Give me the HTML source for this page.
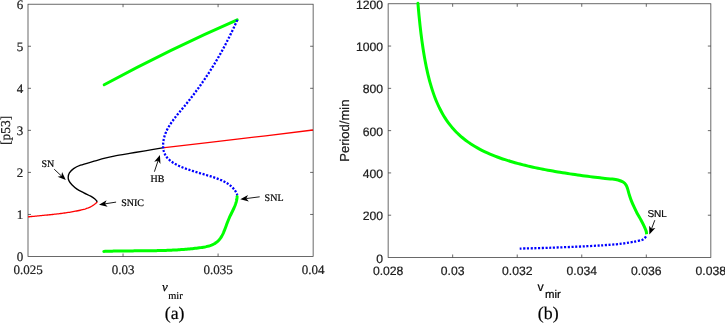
<!DOCTYPE html>
<html><head><meta charset="utf-8"><style>
html,body{margin:0;padding:0;background:#fff;width:725px;height:323px;overflow:hidden;font-family:"Liberation Sans",sans-serif;}
svg{display:block;will-change:transform;}
text{text-rendering:geometricPrecision;stroke:currentColor;stroke-width:0.2px;}
</style></head><body>
<svg width="725" height="323" viewBox="0 0 725 323">
<g fill="none" stroke="#383838" stroke-width="0.75">
<rect x="28" y="4.2" width="285.13" height="252.3"/>
<line x1="123.04" y1="256.5" x2="123.04" y2="253.5"/>
<line x1="123.04" y1="4.2" x2="123.04" y2="7.2"/>
<line x1="218.09" y1="256.5" x2="218.09" y2="253.5"/>
<line x1="218.09" y1="4.2" x2="218.09" y2="7.2"/>
<line x1="28" y1="214.45" x2="31" y2="214.45"/>
<line x1="313.13" y1="214.45" x2="310.13" y2="214.45"/>
<line x1="28" y1="172.40" x2="31" y2="172.40"/>
<line x1="313.13" y1="172.40" x2="310.13" y2="172.40"/>
<line x1="28" y1="130.35" x2="31" y2="130.35"/>
<line x1="313.13" y1="130.35" x2="310.13" y2="130.35"/>
<line x1="28" y1="88.30" x2="31" y2="88.30"/>
<line x1="313.13" y1="88.30" x2="310.13" y2="88.30"/>
<line x1="28" y1="46.25" x2="31" y2="46.25"/>
<line x1="313.13" y1="46.25" x2="310.13" y2="46.25"/>
</g>
<path d="M28.00,216.90 L29.21,216.77 L30.42,216.65 L31.64,216.52 L32.85,216.40 L34.06,216.28 L35.28,216.16 L36.49,216.04 L37.71,215.92 L38.92,215.81 L40.14,215.69 L41.36,215.57 L42.57,215.46 L43.79,215.34 L45.01,215.22 L46.22,215.10 L47.44,214.98 L48.66,214.86 L49.88,214.73 L51.09,214.61 L52.31,214.48 L53.53,214.35 L54.75,214.21 L55.96,214.07 L57.18,213.93 L58.40,213.79 L59.62,213.64 L60.83,213.49 L62.05,213.33 L63.26,213.17 L64.48,213.00 L65.70,212.83 L66.91,212.65 L68.12,212.47 L69.34,212.28 L70.55,212.08 L71.77,211.88 L72.98,211.67 L74.19,211.45 L75.40,211.23 L76.61,211.00 L77.82,210.76 L79.03,210.51 L80.23,210.25 L81.43,209.97 L82.62,209.67 L83.80,209.35 L84.97,209.01 L86.12,208.64 L87.26,208.23 L88.38,207.79 L89.48,207.32 L90.56,206.80 L91.61,206.24 L92.64,205.64 L93.63,204.98 L94.60,204.27 L95.54,203.51 L96.44,202.69 L97.30,201.80" fill="none" stroke="#ff0000" stroke-width="1.3"/>
<path d="M162.40,147.80 C174.87,146.37 212.10,142.17 237.20,139.20 C262.30,136.23 300.37,131.53 313.00,130.00" fill="none" stroke="#ff0000" stroke-width="1.3"/>
<path d="M97.30,201.80 C96.90,201.33 96.00,199.93 94.90,199.00 C93.80,198.07 92.53,197.23 90.70,196.20 C88.87,195.17 86.18,193.98 83.90,192.80 C81.62,191.62 79.00,190.43 77.00,189.10 C75.00,187.77 73.25,186.22 71.90,184.80 C70.55,183.38 69.52,181.87 68.90,180.60 C68.28,179.33 68.12,178.48 68.20,177.20 C68.28,175.92 68.50,174.33 69.40,172.90 C70.30,171.47 71.75,169.88 73.60,168.60 C75.45,167.32 77.08,166.43 80.50,165.20 C83.92,163.97 90.02,162.38 94.10,161.20 C98.18,160.02 101.67,158.95 105.00,158.10 C108.33,157.25 110.00,156.88 114.10,156.10 C118.20,155.32 124.43,154.28 129.60,153.40 C134.77,152.52 139.63,151.72 145.10,150.80 C150.57,149.88 159.52,148.38 162.40,147.90" fill="none" stroke="#000" stroke-width="1.35"/>
<path d="M104.2,84.7 Q170.7,48.7 237.2,19.8" fill="none" stroke="#00ff00" stroke-width="3" stroke-linecap="round"/>
<path d="M103.80,251.40 L105.20,251.35 L106.60,251.30 L108.00,251.26 L109.40,251.21 L110.80,251.18 L112.19,251.14 L113.59,251.11 L114.98,251.08 L116.37,251.05 L117.76,251.03 L119.15,251.01 L120.53,250.99 L121.92,250.97 L123.30,250.95 L124.69,250.94 L126.07,250.93 L127.45,250.91 L128.83,250.90 L130.21,250.89 L131.59,250.88 L132.97,250.88 L134.34,250.87 L135.72,250.86 L137.10,250.85 L138.47,250.84 L139.85,250.83 L141.22,250.83 L142.60,250.82 L143.97,250.81 L145.35,250.80 L146.72,250.78 L148.09,250.77 L149.47,250.75 L150.84,250.74 L152.21,250.72 L153.59,250.70 L154.96,250.68 L156.34,250.65 L157.71,250.62 L159.09,250.60 L160.46,250.56 L161.84,250.53 L163.21,250.49 L164.59,250.45 L165.96,250.40 L167.34,250.35 L168.72,250.30 L170.10,250.24 L171.48,250.18 L172.86,250.11 L174.24,250.04 L175.62,249.97 L177.01,249.89 L178.39,249.80 L179.77,249.71 L181.16,249.62 L182.55,249.52 L183.94,249.41 L185.33,249.30 L186.72,249.18 L188.11,249.06 L189.51,248.93 L190.90,248.79 L192.30,248.65 L193.70,248.49 L195.10,248.34 L196.51,248.17 L197.91,248.00 L199.32,247.82 L200.72,247.63 L202.12,247.42 L203.52,247.19 L204.90,246.94 L206.26,246.65 L207.60,246.33 L208.92,245.97 L210.21,245.56 L211.47,245.09 L212.69,244.57 L213.88,243.99 L215.01,243.35 L216.11,242.63 L217.14,241.83 L218.13,240.95 L219.05,239.99 L219.92,238.93 L220.72,237.81 L221.47,236.62 L222.17,235.38 L222.83,234.09 L223.44,232.78 L224.01,231.46 L224.55,230.12 L225.06,228.79 L225.55,227.46 L226.03,226.14 L226.51,224.83 L226.99,223.54 L227.48,222.26 L227.98,220.99 L228.49,219.72 L229.02,218.47 L229.57,217.22 L230.15,215.98 L230.75,214.74 L231.35,213.50 L231.97,212.26 L232.57,211.01 L233.17,209.77 L233.76,208.51 L234.31,207.25 L234.84,205.97 L235.33,204.69 L235.78,203.39 L236.18,202.07 L236.51,200.74 L236.78,199.38 L236.98,198.00 L237.10,196.60" fill="none" stroke="#00ff00" stroke-width="3" stroke-linecap="round"/>
<path d="M237.30,19.90 L236.45,21.80 L235.60,23.70 L234.74,25.58 L233.87,27.46 L232.99,29.32 L232.11,31.18 L231.22,33.03 L230.32,34.87 L229.42,36.70 L228.50,38.53 L227.58,40.34 L226.65,42.15 L225.71,43.95 L224.77,45.74 L223.81,47.53 L222.85,49.31 L221.88,51.08 L220.90,52.84 L219.91,54.60 L218.91,56.35 L217.90,58.09 L216.88,59.83 L215.86,61.56 L214.82,63.29 L213.78,65.00 L212.72,66.72 L211.66,68.42 L210.58,70.13 L209.50,71.82 L208.40,73.51 L207.30,75.20 L206.18,76.88 L205.06,78.56 L203.92,80.23 L202.78,81.90 L201.62,83.56 L200.45,85.22 L199.27,86.87 L198.08,88.52 L196.88,90.17 L195.66,91.81 L194.44,93.45 L193.20,95.09 L191.95,96.72 L190.69,98.35 L189.42,99.98 L188.14,101.60 L186.84,103.22 L185.53,104.84 L184.21,106.46 L182.88,108.08 L181.54,109.69 L180.19,111.30 L178.84,112.92 L177.51,114.54 L176.19,116.18 L174.90,117.82 L173.63,119.47 L172.41,121.14 L171.22,122.83 L170.09,124.53 L169.02,126.26 L168.02,128.01 L167.08,129.79 L166.23,131.60 L165.46,133.44 L164.78,135.32 L164.21,137.23 L163.74,139.18 L163.39,141.16 L163.16,143.17 L163.07,145.18 L163.13,147.17 L163.34,149.12 L163.73,151.02 L164.30,152.84 L165.07,154.55 L166.03,156.17 L167.17,157.67 L168.47,159.08 L169.92,160.40 L171.50,161.62 L173.18,162.77 L174.97,163.84 L176.82,164.84 L178.74,165.77 L180.70,166.64 L182.69,167.46 L184.68,168.23 L186.67,168.96 L188.64,169.65 L190.60,170.31 L192.55,170.94 L194.50,171.55 L196.44,172.14 L198.37,172.71 L200.31,173.28 L202.25,173.84 L204.18,174.41 L206.13,174.98 L208.08,175.56 L210.04,176.15 L212.00,176.77 L213.98,177.42 L215.95,178.09 L217.91,178.81 L219.84,179.58 L221.74,180.40 L223.59,181.28 L225.39,182.23 L227.13,183.25 L228.79,184.36 L230.36,185.56 L231.83,186.85 L233.20,188.25 L234.45,189.75 L235.58,191.37 L236.57,193.12 L237.41,195.00" fill="none" stroke="#0000ff" stroke-width="2.3" stroke-dasharray="2.1 1.6"/>
<line x1="54.20" y1="169.20" x2="61.42" y2="175.97" stroke="#000" stroke-width="0.9"/><path d="M65.79,180.07 L57.55,176.87 L61.42,175.97 L62.07,172.06 Z" fill="#000"/>
<line x1="116.10" y1="202.10" x2="104.93" y2="203.84" stroke="#000" stroke-width="0.9"/><path d="M99.00,204.76 L106.60,200.24 L104.93,203.84 L107.61,206.76 Z" fill="#000"/>
<line x1="154.40" y1="171.70" x2="158.03" y2="160.81" stroke="#000" stroke-width="0.9"/><path d="M159.93,155.12 L160.46,163.94 L158.03,160.81 L154.20,161.86 Z" fill="#000"/>
<line x1="259.70" y1="196.80" x2="246.25" y2="198.57" stroke="#000" stroke-width="0.9"/><path d="M240.30,199.35 L248.00,195.01 L246.25,198.57 L248.86,201.55 Z" fill="#000"/>
<text x="23.2" y="261.40" font-family="Liberation Serif, serif" font-size="13" text-anchor="end" fill="#262626">0</text>
<text x="23.2" y="219.35" font-family="Liberation Serif, serif" font-size="13" text-anchor="end" fill="#262626">1</text>
<text x="23.2" y="177.30" font-family="Liberation Serif, serif" font-size="13" text-anchor="end" fill="#262626">2</text>
<text x="23.2" y="135.25" font-family="Liberation Serif, serif" font-size="13" text-anchor="end" fill="#262626">3</text>
<text x="23.2" y="93.20" font-family="Liberation Serif, serif" font-size="13" text-anchor="end" fill="#262626">4</text>
<text x="23.2" y="51.15" font-family="Liberation Serif, serif" font-size="13" text-anchor="end" fill="#262626">5</text>
<text x="23.2" y="9.10" font-family="Liberation Serif, serif" font-size="13" text-anchor="end" fill="#262626">6</text>
<text x="28.00" y="273.9" font-family="Liberation Serif, serif" font-size="13" text-anchor="middle" fill="#262626">0.025</text>
<text x="123.04" y="273.9" font-family="Liberation Serif, serif" font-size="13" text-anchor="middle" fill="#262626">0.03</text>
<text x="218.09" y="273.9" font-family="Liberation Serif, serif" font-size="13" text-anchor="middle" fill="#262626">0.035</text>
<text x="313.13" y="273.9" font-family="Liberation Serif, serif" font-size="13" text-anchor="middle" fill="#262626">0.04</text>
<text transform="translate(9.9,130.4) rotate(-90)" font-family="Liberation Serif, serif" font-size="13.6" text-anchor="middle" fill="#262626">[p53]</text>
<text x="162" y="291" font-family="Liberation Serif, serif" font-size="13" font-style="italic" fill="#000">v</text>
<text x="168.2" y="298.5" font-family="Liberation Serif, serif" font-size="10.4" fill="#000">mir</text>
<text x="174.6" y="318.5" font-family="Liberation Serif, serif" font-size="17.8" text-anchor="middle" fill="#000">(a)</text>
<text x="41.4" y="167" font-family="Liberation Serif, serif" font-size="10" fill="#000">SN</text>
<text x="121.2" y="206" font-family="Liberation Serif, serif" font-size="10" fill="#000">SNIC</text>
<text x="150.5" y="181.5" font-family="Liberation Serif, serif" font-size="10" fill="#000">HB</text>
<text x="264.6" y="200.6" font-family="Liberation Serif, serif" font-size="10" fill="#000">SNL</text>
<g fill="none" stroke="#383838" stroke-width="0.75">
<rect x="388.13" y="3.77" width="322.72" height="253.73"/>
<line x1="452.67" y1="257.5" x2="452.67" y2="254.5"/>
<line x1="452.67" y1="3.77" x2="452.67" y2="6.77"/>
<line x1="517.22" y1="257.5" x2="517.22" y2="254.5"/>
<line x1="517.22" y1="3.77" x2="517.22" y2="6.77"/>
<line x1="581.76" y1="257.5" x2="581.76" y2="254.5"/>
<line x1="581.76" y1="3.77" x2="581.76" y2="6.77"/>
<line x1="646.31" y1="257.5" x2="646.31" y2="254.5"/>
<line x1="646.31" y1="3.77" x2="646.31" y2="6.77"/>
<line x1="388.13" y1="215.21" x2="391.13" y2="215.21"/>
<line x1="710.85" y1="215.21" x2="707.85" y2="215.21"/>
<line x1="388.13" y1="172.92" x2="391.13" y2="172.92"/>
<line x1="710.85" y1="172.92" x2="707.85" y2="172.92"/>
<line x1="388.13" y1="130.63" x2="391.13" y2="130.63"/>
<line x1="710.85" y1="130.63" x2="707.85" y2="130.63"/>
<line x1="388.13" y1="88.35" x2="391.13" y2="88.35"/>
<line x1="710.85" y1="88.35" x2="707.85" y2="88.35"/>
<line x1="388.13" y1="46.06" x2="391.13" y2="46.06"/>
<line x1="710.85" y1="46.06" x2="707.85" y2="46.06"/>
</g>
<path d="M417.99,4.00 C417.99,4.03 417.83,2.28 418.00,4.17 C418.17,6.06 418.67,11.84 419.00,15.32 C419.33,18.81 419.67,22.02 420.00,25.09 C420.33,28.16 420.67,31.00 421.00,33.72 C421.33,36.44 421.67,38.99 422.00,41.42 C422.33,43.85 422.67,46.14 423.00,48.33 C423.33,50.52 423.67,52.58 424.00,54.57 C424.33,56.56 424.67,58.43 425.00,60.24 C425.33,62.05 425.67,63.76 426.00,65.42 C426.33,67.07 426.67,68.65 427.00,70.17 C427.33,71.69 427.67,73.14 428.00,74.54 C428.33,75.94 428.67,77.29 429.00,78.58 C429.33,79.88 429.42,80.33 430.00,82.34 C430.58,84.34 431.67,88.07 432.50,90.63 C433.33,93.19 434.17,95.49 435.00,97.68 C435.83,99.86 436.67,101.85 437.50,103.75 C438.33,105.64 439.17,107.38 440.00,109.04 C440.83,110.70 441.67,112.24 442.50,113.70 C443.33,115.17 444.17,116.54 445.00,117.85 C445.83,119.16 446.67,120.38 447.50,121.56 C448.33,122.74 449.17,123.84 450.00,124.91 C450.83,125.97 451.67,126.98 452.50,127.94 C453.33,128.91 454.17,129.83 455.00,130.71 C455.83,131.60 456.67,132.44 457.50,133.25 C458.33,134.06 459.17,134.84 460.00,135.59 C460.83,136.34 461.67,137.05 462.50,137.75 C463.33,138.44 464.17,139.11 465.00,139.75 C465.83,140.40 466.67,141.01 467.50,141.62 C468.33,142.22 468.75,142.54 470.00,143.36 C471.25,144.17 473.33,145.52 475.00,146.52 C476.67,147.51 478.33,148.43 480.00,149.32 C481.67,150.20 483.33,151.02 485.00,151.82 C486.67,152.61 488.33,153.35 490.00,154.07 C491.67,154.78 493.33,155.46 495.00,156.11 C496.67,156.76 498.33,157.37 500.00,157.97 C501.67,158.56 503.33,159.13 505.00,159.67 C506.67,160.22 508.33,160.74 510.00,161.25 C511.67,161.75 513.33,162.23 515.00,162.70 C516.67,163.17 518.33,163.62 520.00,164.06 C521.67,164.49 523.33,164.91 525.00,165.32 C526.67,165.72 528.33,166.12 530.00,166.50 C531.67,166.88 533.33,167.25 535.00,167.61 C536.67,167.97 538.33,168.31 540.00,168.65 C541.67,168.99 543.33,169.32 545.00,169.64 C546.67,169.96 548.33,170.27 550.00,170.57 C551.67,170.88 553.33,171.17 555.00,171.46 C556.67,171.75 558.33,172.03 560.00,172.30 C561.67,172.57 563.33,172.84 565.00,173.10 C566.67,173.37 568.33,173.62 570.00,173.87 C571.67,174.12 573.33,174.36 575.00,174.60 C576.67,174.84 578.33,175.08 580.00,175.31 C581.67,175.54 583.33,175.76 585.00,175.98 C586.67,176.20 588.33,176.42 590.00,176.63 C591.67,176.84 593.33,177.05 595.00,177.25 C596.67,177.46 598.33,177.66 600.00,177.85 C601.67,178.05 603.00,178.24 605.00,178.43 C607.00,178.62 609.83,178.74 612.00,179.00 C614.17,179.26 616.15,179.48 618.00,180.00 C619.85,180.52 621.75,181.25 623.10,182.10 C624.45,182.95 625.33,183.93 626.10,185.10 C626.87,186.27 627.20,187.60 627.70,189.10 C628.20,190.60 628.53,192.27 629.10,194.10 C629.67,195.93 630.33,198.08 631.10,200.10 C631.87,202.12 632.70,204.02 633.70,206.20 C634.70,208.38 635.87,210.87 637.10,213.20 C638.33,215.53 639.92,218.02 641.10,220.20 C642.28,222.38 643.35,224.45 644.20,226.30 C645.05,228.15 645.80,229.97 646.20,231.30 C646.60,232.63 646.53,233.80 646.60,234.30" fill="none" stroke="#00ff00" stroke-width="3" stroke-linecap="butt"/>
<path d="M519.70,248.60 C524.52,248.47 537.35,248.20 548.60,247.80 C559.85,247.40 575.93,246.78 587.20,246.20 C598.47,245.62 609.07,244.93 616.20,244.30 C623.33,243.67 626.53,242.93 630.00,242.40 C633.47,241.87 634.92,241.55 637.00,241.10 C639.08,240.65 641.13,240.30 642.50,239.70 C643.87,239.10 644.52,238.20 645.20,237.50 C645.88,236.80 646.37,235.83 646.60,235.50" fill="none" stroke="#0000ff" stroke-width="2.3" stroke-dasharray="2.1 1.6"/>
<line x1="654.80" y1="220.20" x2="651.50" y2="228.87" stroke="#000" stroke-width="0.9"/><path d="M649.36,234.47 L649.20,225.64 L651.50,228.87 L655.36,227.99 Z" fill="#000"/>
<text x="383.0" y="262.60" font-family="Liberation Sans, sans-serif" font-size="12.2" text-anchor="end" fill="#262626">0</text>
<text x="383.0" y="220.31" font-family="Liberation Sans, sans-serif" font-size="12.2" text-anchor="end" fill="#262626">200</text>
<text x="383.0" y="178.02" font-family="Liberation Sans, sans-serif" font-size="12.2" text-anchor="end" fill="#262626">400</text>
<text x="383.0" y="135.73" font-family="Liberation Sans, sans-serif" font-size="12.2" text-anchor="end" fill="#262626">600</text>
<text x="383.0" y="93.45" font-family="Liberation Sans, sans-serif" font-size="12.2" text-anchor="end" fill="#262626">800</text>
<text x="383.0" y="51.16" font-family="Liberation Sans, sans-serif" font-size="12.2" text-anchor="end" fill="#262626">1000</text>
<text x="383.0" y="8.87" font-family="Liberation Sans, sans-serif" font-size="12.2" text-anchor="end" fill="#262626">1200</text>
<text x="388.13" y="275" font-family="Liberation Sans, sans-serif" font-size="12.2" text-anchor="middle" fill="#262626">0.028</text>
<text x="452.67" y="275" font-family="Liberation Sans, sans-serif" font-size="12.2" text-anchor="middle" fill="#262626">0.03</text>
<text x="517.22" y="275" font-family="Liberation Sans, sans-serif" font-size="12.2" text-anchor="middle" fill="#262626">0.032</text>
<text x="581.76" y="275" font-family="Liberation Sans, sans-serif" font-size="12.2" text-anchor="middle" fill="#262626">0.034</text>
<text x="646.31" y="275" font-family="Liberation Sans, sans-serif" font-size="12.2" text-anchor="middle" fill="#262626">0.036</text>
<text x="710.85" y="275" font-family="Liberation Sans, sans-serif" font-size="12.2" text-anchor="middle" fill="#262626">0.038</text>
<text transform="translate(349.2,130.7) rotate(-90)" font-family="Liberation Sans, sans-serif" font-size="13" text-anchor="middle" fill="#262626">Period/min</text>
<text x="537.6" y="291" font-family="Liberation Sans, sans-serif" font-size="12.4" fill="#000">v</text>
<text x="545" y="298" font-family="Liberation Sans, sans-serif" font-size="11.4" fill="#000">mir</text>
<text x="548.2" y="318.5" font-family="Liberation Serif, serif" font-size="17.8" text-anchor="middle" fill="#000">(b)</text>
<text x="647.4" y="217" font-family="Liberation Sans, sans-serif" font-size="10" fill="#000">SNL</text>
</svg>
</body></html>
